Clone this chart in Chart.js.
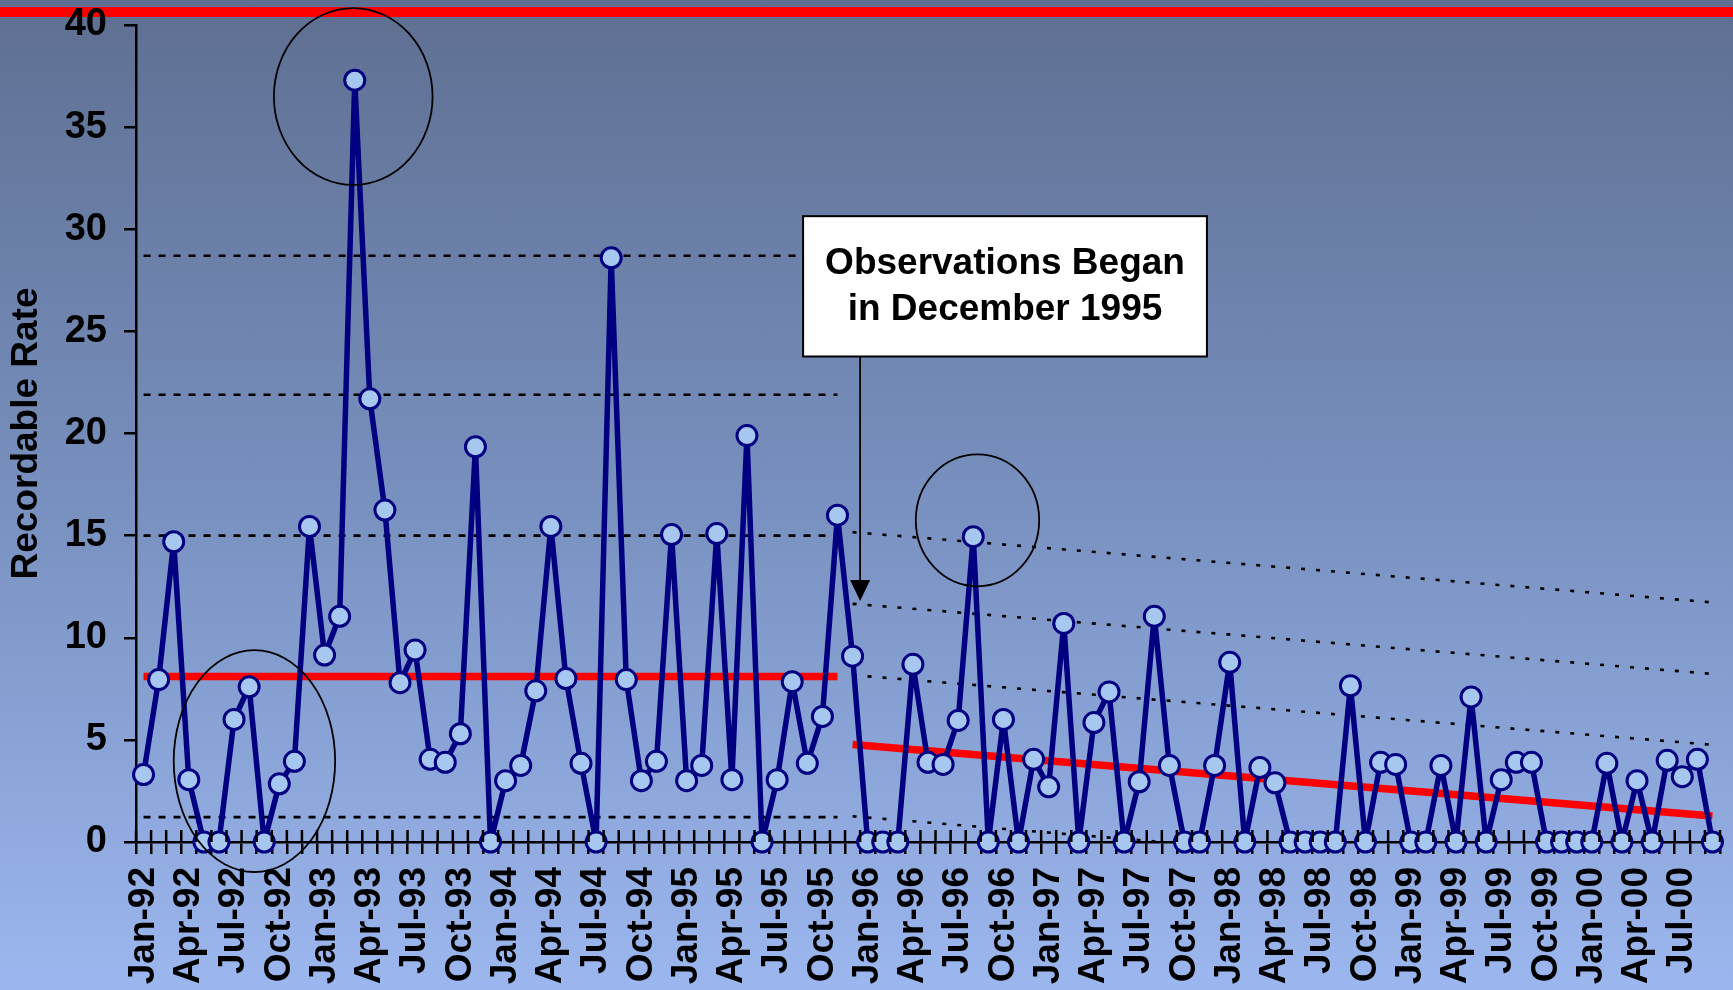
<!DOCTYPE html>
<html>
<head>
<meta charset="utf-8">
<script src="https://cdn.jsdelivr.net/npm/chart.js@4.4.1/dist/chart.umd.min.js"></script>
<style>
  html, body { margin: 0; padding: 0; overflow: hidden; }
  body {
    width: 1733px; height: 990px;
    background: linear-gradient(to bottom, #5e6f91 0%, #7890bf 50%, #9cb7ef 100%);
  }
  #wrap { position: relative; width: 1733px; height: 990px; }
</style>
</head>
<body>
<div id="wrap"><canvas id="line-chart"></canvas></div>
<script>
// monthly categories
const months = [
  'Jan-92','Feb-92','Mar-92','Apr-92','May-92','Jun-92','Jul-92','Aug-92','Sep-92','Oct-92','Nov-92','Dec-92',
  'Jan-93','Feb-93','Mar-93','Apr-93','May-93','Jun-93','Jul-93','Aug-93','Sep-93','Oct-93','Nov-93','Dec-93',
  'Jan-94','Feb-94','Mar-94','Apr-94','May-94','Jun-94','Jul-94','Aug-94','Sep-94','Oct-94','Nov-94','Dec-94',
  'Jan-95','Feb-95','Mar-95','Apr-95','May-95','Jun-95','Jul-95','Aug-95','Sep-95','Oct-95','Nov-95','Dec-95',
  'Jan-96','Feb-96','Mar-96','Apr-96','May-96','Jun-96','Jul-96','Aug-96','Sep-96','Oct-96','Nov-96','Dec-96',
  'Jan-97','Feb-97','Mar-97','Apr-97','May-97','Jun-97','Jul-97','Aug-97','Sep-97','Oct-97','Nov-97','Dec-97',
  'Jan-98','Feb-98','Mar-98','Apr-98','May-98','Jun-98','Jul-98','Aug-98','Sep-98','Oct-98','Nov-98','Dec-98',
  'Jan-99','Feb-99','Mar-99','Apr-99','May-99','Jun-99','Jul-99','Aug-99','Sep-99','Oct-99','Nov-99','Dec-99',
  'Jan-00','Feb-00','Mar-00','Apr-00','May-00','Jun-00','Jul-00','Aug-00','Sep-00'
];

// recordable rate per month
const rates = [
  3.3, 7.95, 14.7, 3.05, 0, 0, 6.0, 7.6, 0, 2.85, 3.95, 15.45,
  9.15, 11.05, 37.3, 21.7, 16.25, 7.8, 9.4, 4.05, 3.9, 5.3, 19.35, 0,
  3.0, 3.75, 7.4, 15.45, 8.0, 3.85, 0, 28.6, 7.95, 3.0, 3.95, 15.05,
  3.0, 3.75, 15.1, 3.05, 19.9, 0, 3.05, 7.85, 3.85, 6.15, 16.0, 9.1,
  0, 0, 0, 8.7, 3.9, 3.8, 5.95, 14.95, 0, 6.0, 0, 4.05,
  2.7, 10.7, 0, 5.85, 7.35, 0, 2.95, 11.05, 3.75, 0, 0, 3.75,
  8.8, 0, 3.65, 2.9, 0, 0, 0, 0, 7.65, 0, 3.9, 3.8,
  0, 0, 3.75, 0, 7.1, 0, 3.05, 3.9, 3.9, 0, 0, 0,
  0, 3.85, 0, 3.0, 0, 4.0, 3.2, 4.05, 0
];

// control chart before observations (Jan-92 .. Nov-95)
const beforeMean = 8.1;
const beforeLimits = [28.7, 21.9, 15.0, 1.22];

// trend after observations (Dec-95 .. Sep-00), start and end values
const afterMean = [4.77, 1.27];
const afterLimitsStart = [15.17, 11.66, 8.17, 1.26];
const afterLimitsEnd = [11.73, 8.23, 4.76, -2.24];

const yTicks = [0, 5, 10, 15, 20, 25, 30, 35, 40];

const firstIdx = 0;
const splitIdx = months.indexOf('Dec-95');
const lastIdx = months.length - 1;

function segment(i0, v0, i1, v1) {
  let arr = months.map(() => null);
  arr[i0] = v0;
  arr[i1] = v1;
  return arr;
}

const FONT = '"Liberation Sans", Arial, sans-serif';

let datasets = [{
  label: 'Recordable Rate',
  data: rates,
  order: 0,
  clip: false,
  borderColor: '#000080',
  borderWidth: 5.5,
  borderJoinStyle: 'round',
  pointRadius: 10,
  pointBorderWidth: 3,
  pointBackgroundColor: '#a6c8f0',
  pointBorderColor: '#000080',
  tension: 0
}];

datasets.push({
  data: segment(firstIdx, beforeMean, splitIdx - 1, beforeMean),
  order: 1, spanGaps: true, pointRadius: 0,
  borderColor: '#ff0000', borderWidth: 7.5
});
beforeLimits.forEach(v => {
  datasets.push({
    data: segment(firstIdx, v, splitIdx - 1, v),
    order: 2, spanGaps: true, pointRadius: 0,
    borderColor: '#000', borderWidth: 2.6, borderDash: [7, 8]
  });
});
datasets.push({
  data: segment(splitIdx, afterMean[0], lastIdx, afterMean[1]),
  order: 1, spanGaps: true, pointRadius: 0,
  borderColor: '#ff0000', borderWidth: 7.5
});
afterLimitsStart.forEach((v, k) => {
  datasets.push({
    data: segment(splitIdx, v, lastIdx, afterLimitsEnd[k]),
    order: 2, spanGaps: true, pointRadius: 0,
    borderColor: '#000', borderWidth: 2.6, borderDash: [4, 11]
  });
});

// annotation shapes, in category index / value units
const circled = [
  { at: 13.9, value: 36.5, rx: 5.26, ry: 4.33 },
  { at: 7.35, value: 3.96, rx: 5.35, ry: 5.43 },
  { at: 55.28, value: 15.75, rx: 4.09, ry: 3.23 }
];
const noteLines = ['Observations Began', 'in December 1995'];
const noteBox = { left: 43.72, right: 70.49, top: 30.64, bottom: 23.77 };
const arrowAt = { at: 47.5, value: 11.8 };

const overlay = {
  id: 'overlay',
  beforeDraw(chart) {
    let ctx = chart.ctx;
    ctx.save();
    ctx.fillStyle = '#ff0000';
    ctx.fillRect(0, 7, chart.width, 10);
    ctx.restore();
  },
  afterDraw(chart) {
    let ctx = chart.ctx;
    let x = chart.scales.x, y = chart.scales.y;
    let area = chart.chartArea;
    ctx.save();

    // tick marks crossing the x axis (upper half)
    ctx.strokeStyle = '#000';
    ctx.lineWidth = 2.5;
    ctx.beginPath();
    for (let i = 0; i <= months.length; i++) {
      let px = x.getPixelForValue(i - 0.5);
      ctx.moveTo(px, area.bottom);
      ctx.lineTo(px, area.bottom - 12);
    }
    ctx.stroke();

    // ellipses
    ctx.lineWidth = 1.8;
    circled.forEach(c => {
      let cx = x.getPixelForValue(c.at);
      let cy = y.getPixelForValue(c.value);
      let rx = Math.abs(x.getPixelForValue(c.at + c.rx) - cx);
      let ry = Math.abs(y.getPixelForValue(c.value + c.ry) - cy);
      ctx.beginPath();
      ctx.ellipse(cx, cy, rx, ry, 0, 0, Math.PI * 2);
      ctx.stroke();
    });

    // note box
    let bl = x.getPixelForValue(noteBox.left), br = x.getPixelForValue(noteBox.right);
    let bt = y.getPixelForValue(noteBox.top), bb = y.getPixelForValue(noteBox.bottom);
    ctx.fillStyle = '#fff';
    ctx.fillRect(bl, bt, br - bl, bb - bt);
    ctx.lineWidth = 2;
    ctx.strokeRect(bl, bt, br - bl, bb - bt);
    ctx.fillStyle = '#000';
    ctx.font = 'bold 37px ' + FONT;
    ctx.textAlign = 'center';
    ctx.textBaseline = 'middle';
    let cxText = (bl + br) / 2;
    ctx.fillText(noteLines[0], cxText, bt + 48);
    ctx.fillText(noteLines[1], cxText, bt + 94);

    // arrow
    let ax = x.getPixelForValue(arrowAt.at);
    let tip = y.getPixelForValue(arrowAt.value);
    ctx.lineWidth = 1.8;
    ctx.beginPath();
    ctx.moveTo(ax, bb);
    ctx.lineTo(ax, tip - 18);
    ctx.stroke();
    ctx.beginPath();
    ctx.moveTo(ax - 10, tip - 21);
    ctx.lineTo(ax + 10, tip - 21);
    ctx.lineTo(ax, tip);
    ctx.closePath();
    ctx.fill();

    ctx.restore();
  }
};

let config = {
  type: 'line',
  data: { labels: months, datasets: datasets },
  options: {
    responsive: true,
    maintainAspectRatio: false,
    animation: false,
    layout: { padding: { top: 25, right: 8, left: 0, bottom: 0 } },
    plugins: { legend: { display: false }, tooltip: { enabled: false } },
    scales: {
      x: {
        type: 'category',
        offset: true,
        grid: {
          display: true, offset: true, drawOnChartArea: false,
          drawTicks: true, tickLength: 12, color: '#000', lineWidth: 2.5
        },
        border: { display: true, color: '#000', width: 2.5 },
        ticks: {
          autoSkip: false, minRotation: 90, maxRotation: 90,
          padding: 13, color: '#000',
          font: { family: FONT, size: 37, weight: 'bold' },
          callback: (v, i) => (i % 3 === 0 ? months[i] : '')
        },
        afterFit: s => {
          s.height = 148;
          s.paddingLeft = 0; s.paddingRight = 0;
          s.paddingTop = 0; s.paddingBottom = 0;
        }
      },
      y: {
        min: 0, max: 40,
        afterBuildTicks: s => { s.ticks = yTicks.map(v => ({ value: v })); },
        grid: {
          display: true, drawOnChartArea: false, drawTicks: true,
          tickLength: 12, color: '#000', lineWidth: 2.5
        },
        border: { display: true, color: '#000', width: 2.5 },
        ticks: {
          padding: 17, color: '#000',
          font: { family: FONT, size: 38, weight: 'bold' }
        },
        title: {
          display: true, text: 'Recordable Rate', color: '#000',
          padding: { top: 5, bottom: 0 },
          font: { family: FONT, size: 37, weight: 'bold' }
        },
        afterFit: s => {
          s.width = 136;
          s.paddingLeft = 0; s.paddingRight = 0;
          s.paddingTop = 0; s.paddingBottom = 0;
        }
      }
    }
  },
  plugins: [overlay]
};

let ctx = document.getElementById('line-chart').getContext('2d');
let myChart = new Chart(ctx, config);
</script>
</body>
</html>
